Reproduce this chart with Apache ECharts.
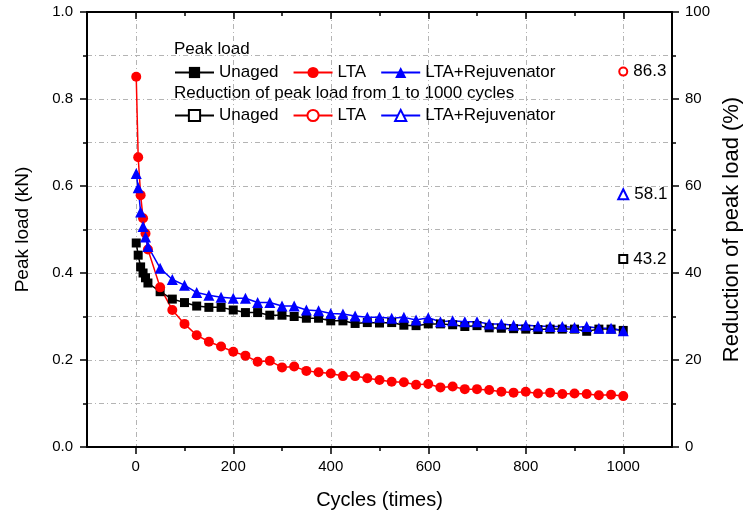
<!DOCTYPE html>
<html>
<head>
<meta charset="utf-8">
<script src="https://cdn.jsdelivr.net/npm/echarts@6/dist/echarts.min.js"></script>
<style>
  html, body { margin: 0; padding: 0; background: #fff; }
  #main { width: 745px; height: 517px; }
</style>
</head>
<body>
<div id="main"></div>
<script>
var cycles = [1, 5, 10, 15, 20, 25, 50, 75, 100, 125, 150, 175, 200, 225, 250, 275, 300, 325, 350, 375,
  400, 425, 450, 475, 500, 525, 550, 575, 600, 625, 650, 675, 700, 725, 750, 775, 800, 825, 850, 875,
  900, 925, 950, 975, 1000];

var unaged = [0.469, 0.441, 0.414, 0.400, 0.389, 0.377, 0.357, 0.340, 0.332, 0.324, 0.321, 0.321, 0.315, 0.309, 0.309,
  0.303, 0.303, 0.300, 0.296, 0.296, 0.290, 0.290, 0.284, 0.286, 0.285, 0.286, 0.280, 0.279, 0.283, 0.283,
  0.281, 0.277, 0.279, 0.274, 0.273, 0.272, 0.271, 0.270, 0.271, 0.271, 0.271, 0.266, 0.271, 0.271, 0.268];

var lta = [0.851, 0.666, 0.579, 0.526, 0.491, 0.454, 0.367, 0.315, 0.283, 0.257, 0.242, 0.231, 0.219, 0.210, 0.196,
  0.198, 0.183, 0.185, 0.175, 0.172, 0.169, 0.163, 0.163, 0.158, 0.154, 0.150, 0.149, 0.143, 0.145, 0.137,
  0.139, 0.133, 0.133, 0.131, 0.127, 0.125, 0.127, 0.123, 0.125, 0.122, 0.123, 0.122, 0.119, 0.120, 0.117];

var ltaRej = [0.629, 0.596, 0.540, 0.507, 0.483, 0.461, 0.411, 0.385, 0.372, 0.355, 0.349, 0.344, 0.342, 0.342, 0.332,
  0.332, 0.324, 0.324, 0.315, 0.313, 0.307, 0.306, 0.301, 0.298, 0.298, 0.296, 0.298, 0.292, 0.297, 0.288,
  0.290, 0.288, 0.288, 0.283, 0.283, 0.280, 0.280, 0.278, 0.277, 0.277, 0.275, 0.277, 0.273, 0.273, 0.267];

// reduction of peak load from 1 to 1000 cycles (%)
var reductionX = 1000;
var reductionUnaged = 43.2;
var reductionLta = 86.3;
var reductionLtaRej = 58.1;

var xMajor = [0, 200, 400, 600, 800, 1000];
var xMinor = [100, 300, 500, 700, 900];

var font = "'Liberation Sans', Arial, sans-serif";
var gridLine = { show: true, lineStyle: { color: '#b4b4b4', width: 1, type: [5, 3, 1, 3] } };

function pairs(ys) {
  return cycles.map(function (c, i) { return [c, ys[i]]; });
}

var myChart = echarts.init(document.getElementById('main'));

function xAx(position, values, len, inside, labels, split, line) {
  return {
    type: 'value', position: position, min: -100, max: 1100,
    axisLine: { show: line, onZero: false, lineStyle: { color: '#000', width: 2 } },
    axisTick: { show: true, inside: inside, length: len, customValues: values, lineStyle: { color: '#000', width: 1.5 } },
    axisLabel: { show: labels, customValues: values, color: '#000', fontSize: 15, fontFamily: font, margin: 12,
      formatter: function (v) { return String(v); } },
    splitLine: split ? gridLine : { show: false }
  };
}

var xMain = xAx('bottom', xMajor, 7, false, true, true, true);
xMain.name = 'Cycles (times)';
xMain.nameLocation = 'middle';
xMain.nameGap = 43;
xMain.nameTextStyle = { color: '#000', fontSize: 20, fontFamily: font };

function reductionLabel() {
  return { show: true, position: 'right', distance: 5, color: '#000', fontSize: 17, fontFamily: font,
    formatter: function (p) { return p.value[1].toFixed(1); } };
}

var option = {
  backgroundColor: '#fff',
  animation: false,
  grid: { left: 87, right: 73, top: 12, bottom: 70, outerBoundsMode: 'none' },
  graphic: [
    { type: 'text', left: 174, top: 41, style: { text: 'Peak load', fontSize: 17, fontFamily: font, fill: '#000' } },
    { type: 'text', left: 174, top: 85, style: { text: 'Reduction of peak load from 1 to 1000 cycles', fontSize: 17, fontFamily: font, fill: '#000' } }
  ],
  legend: [
    {
      left: 174, top: 64, itemWidth: 39, itemHeight: 14, itemGap: 14, padding: 0,
      textStyle: { fontSize: 17, fontFamily: font, color: '#000' },
      data: ['Unaged', 'LTA', 'LTA+Rejuvenator']
    },
    {
      left: 174, top: 107, itemWidth: 39, itemHeight: 14, itemGap: 14, padding: 0,
      textStyle: { fontSize: 17, fontFamily: font, color: '#000' },
      formatter: function (n) { return n.replace(' (reduction)', ''); },
      data: ['Unaged (reduction)', 'LTA (reduction)', 'LTA+Rejuvenator (reduction)']
    }
  ],
  xAxis: [
    xMain,
    xAx('bottom', xMinor, 4, false, false, false, false),
    xAx('top', xMajor, 7, true, false, false, true),
    xAx('top', xMinor, 4, true, false, false, false)
  ],
  yAxis: [
    {
      type: 'value', position: 'left', min: 0, max: 1, interval: 0.2,
      name: 'Peak load (kN)', nameLocation: 'middle', nameRotate: 90, nameGap: 55,
      nameTextStyle: { color: '#000', fontSize: 19, fontFamily: font },
      axisLine: { show: true, onZero: false, lineStyle: { color: '#000', width: 2 } },
      axisTick: { show: true, length: 7, lineStyle: { color: '#000', width: 1.5 } },
      minorTick: { show: true, splitNumber: 2, length: 4, lineStyle: { color: '#000', width: 1.5 } },
      axisLabel: { color: '#000', fontSize: 15, fontFamily: font, margin: 14,
        formatter: function (v) { return v.toFixed(1); } },
      splitLine: gridLine,
      minorSplitLine: gridLine
    },
    {
      type: 'value', position: 'right', min: 0, max: 100, interval: 20,
      name: 'Reduction of peak load (%)', nameLocation: 'middle', nameRotate: 90, nameGap: 48,
      nameTextStyle: { color: '#000', fontSize: 22, fontFamily: font },
      axisLine: { show: true, onZero: false, lineStyle: { color: '#000', width: 2 } },
      axisTick: { show: true, length: 7, lineStyle: { color: '#000', width: 1.5 } },
      minorTick: { show: true, splitNumber: 2, length: 4, lineStyle: { color: '#000', width: 1.5 } },
      axisLabel: { color: '#000', fontSize: 15, fontFamily: font, margin: 13 },
      splitLine: { show: false }
    }
  ],
  series: [
    {
      name: 'Unaged', type: 'line', data: pairs(unaged), symbol: 'rect', symbolSize: 9,
      itemStyle: { color: '#000' }, lineStyle: { color: '#000', width: 1.5 }
    },
    {
      name: 'LTA', type: 'line', data: pairs(lta), symbol: 'circle', symbolSize: 10,
      itemStyle: { color: '#ff0000' }, lineStyle: { color: '#ff0000', width: 1.5 }
    },
    {
      name: 'LTA+Rejuvenator', type: 'line', data: pairs(ltaRej), symbol: 'triangle', symbolSize: 11,
      itemStyle: { color: '#0000ff' }, lineStyle: { color: '#0000ff', width: 1.5 }
    },
    {
      name: 'Unaged (reduction)', type: 'line', yAxisIndex: 1, data: [[reductionX, reductionUnaged]],
      symbol: 'emptyRect', symbolSize: 8, itemStyle: { color: '#000', borderWidth: 2 },
      lineStyle: { color: '#000', width: 1.5 }, label: reductionLabel()
    },
    {
      name: 'LTA (reduction)', type: 'line', yAxisIndex: 1, data: [[reductionX, reductionLta]],
      symbol: 'emptyCircle', symbolSize: 8, itemStyle: { color: '#ff0000', borderWidth: 2 },
      lineStyle: { color: '#ff0000', width: 1.5 }, label: reductionLabel()
    },
    {
      name: 'LTA+Rejuvenator (reduction)', type: 'line', yAxisIndex: 1, data: [[reductionX, reductionLtaRej]],
      symbol: 'emptyTriangle', symbolSize: 10, itemStyle: { color: '#0000ff', borderWidth: 2 },
      lineStyle: { color: '#0000ff', width: 1.5 }, label: reductionLabel()
    }
  ]
};

myChart.setOption(option);
</script>
</body>
</html>
